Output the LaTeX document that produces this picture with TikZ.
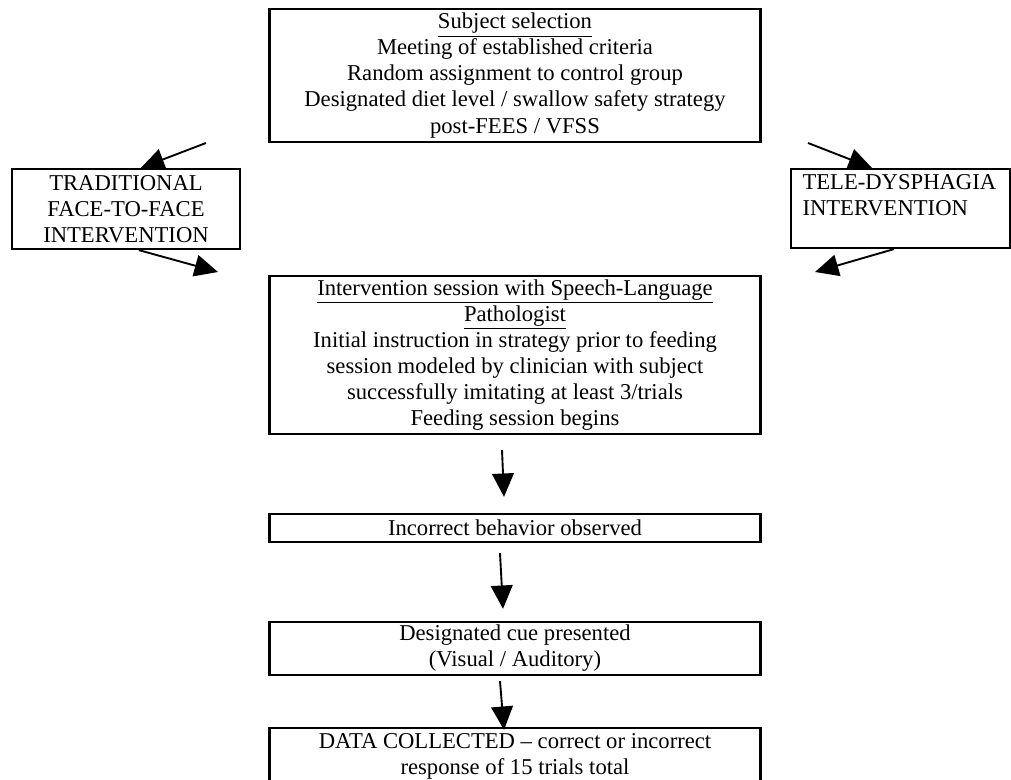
\documentclass[tikz,border=0pt]{standalone}
\usepackage{fontspec}
\setmainfont{Liberation Serif}
\usetikzlibrary{arrows.meta, positioning, calc}

\newcommand{\pxu}{0.53pt}

\tikzset{
  flowbox/.style={draw, line width=1.2pt, inner sep=0pt, align=center,
    font=\fontsize{12}{13.8}\selectfont},
  flowarrow/.style={line width=1pt, -{Triangle[width=11.5pt, length=12.4pt]}},
}

\begin{document}
\begin{tikzpicture}[x=\pxu, y=-\pxu]
    \useasboundingbox (0,0) rectangle (1011,780);
    \clip (0,0) rectangle (1011,780);

    % Main column
    \node[flowbox, minimum width=491*\pxu, minimum height=133*\pxu] (select) at (515,75.5)
      {\underline{Subject selection}\\
       Meeting of established criteria\\
       Random assignment to control group\\
       Designated diet level / swallow safety strategy\\
       post-FEES / VFSS};
    \node[flowbox, minimum width=491*\pxu, minimum height=158*\pxu] (session) at (515,355)
      {\underline{Intervention session with Speech-Language}\\
       \underline{Pathologist}\\
       Initial instruction in strategy prior to feeding\\
       session modeled by clinician with subject\\
       successfully imitating at least 3/trials\\
       Feeding session begins};
    \node[flowbox, minimum width=491*\pxu, minimum height=28*\pxu] (incorrect) at (515,528)
      {Incorrect behavior observed};
    \node[flowbox, minimum width=491*\pxu, minimum height=53*\pxu] (cue) at (515,648.5)
      {Designated cue presented\\ (Visual / Auditory)};
    \node[flowbox, minimum width=491*\pxu, minimum height=56*\pxu] (data) at (515,756)
      {DATA COLLECTED -- correct or incorrect\\ response of 15 trials total};

    % Side boxes
    \node[flowbox, minimum width=228*\pxu, minimum height=80*\pxu] (trad) at (126,209)
      {TRADITIONAL\\ FACE-TO-FACE\\ INTERVENTION};
    \node[flowbox, align=left, text width=196*\pxu, inner xsep=11.5*\pxu,
      minimum height=79*\pxu] (tele) at (900.5,208.5)
      {TELE-DYSPHAGIA\\ INTERVENTION\\ \mbox{}};

    % Free arrow ends
    \coordinate (tradin)  at (206,143);
    \coordinate (tradout) at (218,272);
    \coordinate (telein)  at (808,143);
    \coordinate (teleout) at (815,272);

    % Side arrows
    \draw[flowarrow] (tradin) -- ([xshift=130*\pxu]trad.north west);
    \draw[flowarrow] ([xshift=128*\pxu]trad.south west) -- (tradout);
    \draw[flowarrow] (telein) -- ([xshift=82*\pxu]tele.north west);
    \draw[flowarrow] ([xshift=104*\pxu]tele.south west) -- (teleout);

    % Column arrows
    \draw[flowarrow] ([xshift=-13*\pxu, yshift=-15*\pxu]session.south)
      -- ([xshift=-11*\pxu, yshift=16*\pxu]incorrect.north);
    \draw[flowarrow] ([xshift=-15*\pxu, yshift=-10*\pxu]incorrect.south)
      -- ([xshift=-12*\pxu, yshift=12*\pxu]cue.north);
    \draw[flowarrow] ([xshift=-15*\pxu, yshift=-5*\pxu]cue.south)
      -- ([xshift=-11*\pxu, yshift=-3*\pxu]data.north);
\end{tikzpicture}
\end{document}
